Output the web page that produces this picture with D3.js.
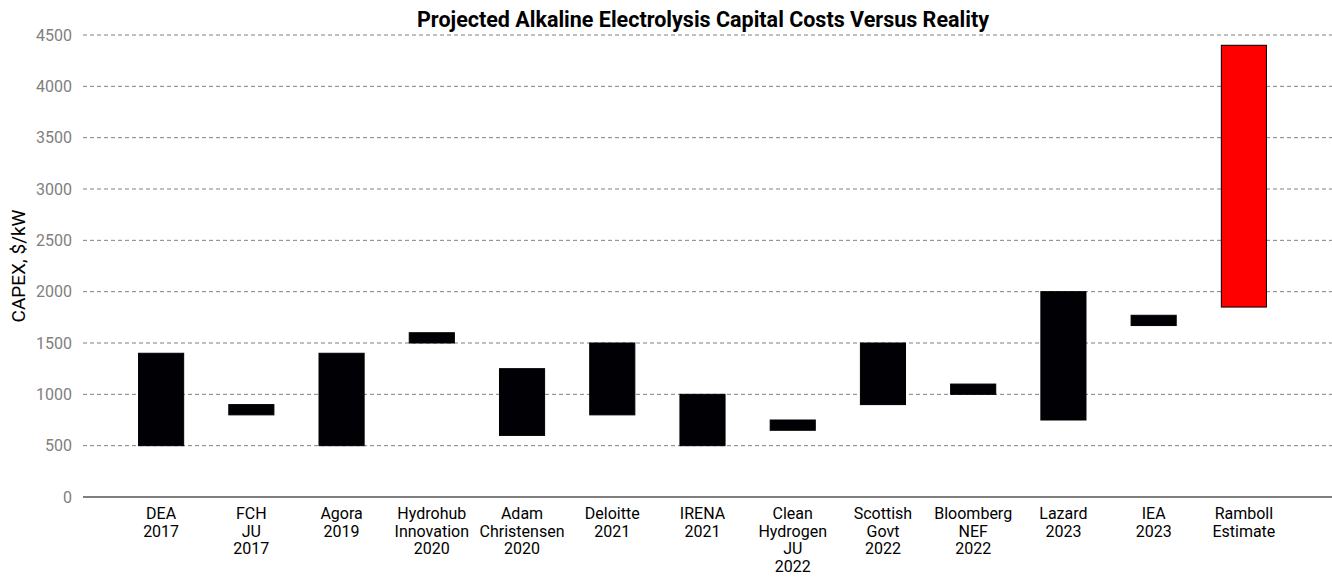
<!DOCTYPE html>
<html><head><meta charset="utf-8">
<script src="https://cdn.jsdelivr.net/npm/d3@7"></script>
<style>body{margin:0;background:#fff}text{font-family:Roboto,sans-serif}</style>
</head><body><svg id="c" width="1332" height="584"></svg>
<script>
// Data
const categories = [
  ['DEA', '2017'], ['FCH', 'JU', '2017'], ['Agora', '2019'], ['Hydrohub', 'Innovation', '2020'],
  ['Adam', 'Christensen', '2020'], ['Deloitte', '2021'], ['IRENA', '2021'], ['Clean', 'Hydrogen', 'JU', '2022'],
  ['Scottish', 'Govt', '2022'], ['Bloomberg', 'NEF', '2022'], ['Lazard', '2023'], ['IEA', '2023'], ['Ramboll', 'Estimate']
];
const lowValues = [500, 800, 500, 1500, 600, 800, 500, 650, 900, 1000, 750, 1670, 1850];
const highValues = [1400, 900, 1400, 1600, 1250, 1500, 1000, 750, 1500, 1100, 2000, 1770, 4400];
const yTicks = [0, 500, 1000, 1500, 2000, 2500, 3000, 3500, 4000, 4500];

const svg = d3.select('#c');
const x = d3.scaleBand().domain(d3.range(categories.length)).range([116, 1289])
  .paddingInner(0.5).paddingOuter(0.25);
const y = d3.scaleLinear().domain([0, 4500]).range([497, 35]);

// Gridlines
svg.append('g').selectAll('line').data(yTicks.slice(1)).join('line')
  .attr('x1', 83).attr('x2', 1332)
  .attr('y1', d => y(d)).attr('y2', d => y(d))
  .attr('stroke', '#808080').attr('stroke-dasharray', '4,3').attr('stroke-width', 1);

// Y tick labels
svg.append('g').selectAll('text').data(yTicks).join('text')
  .attr('x', 72).attr('y', d => y(d)).attr('dy', '0.35em')
  .attr('text-anchor', 'end').attr('font-size', 16).attr('fill', '#808080')
  .text(d => d);

// Bars
svg.append('g').selectAll('rect').data(categories).join('rect')
  .attr('x', (d, i) => x(i))
  .attr('width', x.bandwidth())
  .attr('y', (d, i) => y(highValues[i]))
  .attr('height', (d, i) => y(lowValues[i]) - y(highValues[i]))
  .attr('fill', (d, i) => i === categories.length - 1 ? '#ff0000' : '#000005')
  .attr('stroke', '#000').attr('stroke-width', 1);

// X axis line
svg.append('line').attr('x1', 83).attr('x2', 1332).attr('y1', 497).attr('y2', 497)
  .attr('stroke', '#000').attr('stroke-width', 1.2);

// X labels
const xl = svg.append('g').selectAll('text').data(categories).join('text')
  .attr('x', (d, i) => x(i) + x.bandwidth() / 2)
  .attr('y', 519).attr('text-anchor', 'middle').attr('font-size', 16).attr('fill', '#000');
xl.selectAll('tspan').data(d => d).join('tspan')
  .attr('x', function () { return this.parentNode.getAttribute('x'); })
  .attr('dy', (d, i) => i === 0 ? 0 : 17.5)
  .text(d => d);

// Title and axis title
svg.append('text').attr('x', 703).attr('y', 27).attr('text-anchor', 'middle')
  .attr('font-size', 21.5).attr('font-weight', 'bold').text('Projected Alkaline Electrolysis Capital Costs Versus Reality');
svg.append('text').attr('transform', 'translate(25,266) rotate(-90)').attr('text-anchor', 'middle')
  .attr('font-size', 19).text('CAPEX, $/kW');
</script></body></html>
